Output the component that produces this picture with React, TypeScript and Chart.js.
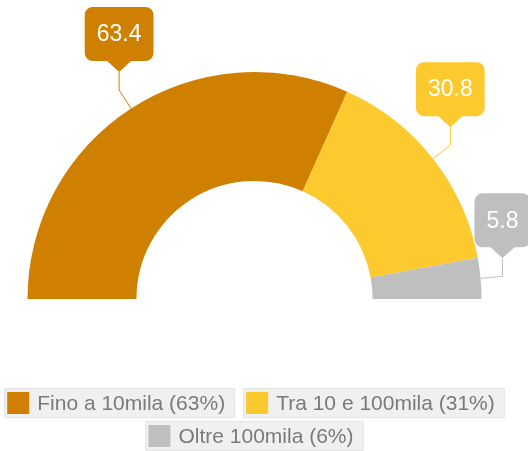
import React, { useEffect, useRef } from 'react';
import { Chart, registerables } from 'chart.js';

Chart.register(...registerables);

const categories = ['Fino a 10mila', 'Tra 10 e 100mila', 'Oltre 100mila'];
const values = [63.4, 30.8, 5.8];
const valueLabels = ['63.4', '30.8', '5.8'];
const colors = ['#D08000', '#FCC92F', '#BFBFBF'];

const FONT = '"Liberation Sans", Arial, Helvetica, sans-serif';

function roundedBoxWithPointer(ctx: CanvasRenderingContext2D, x: number, y: number, w: number, h: number, r: number, tipX: number, tipY: number, half: number) {
  ctx.beginPath();
  ctx.moveTo(x + r, y);
  ctx.lineTo(x + w - r, y);
  ctx.arcTo(x + w, y, x + w, y + r, r);
  ctx.lineTo(x + w, y + h - r);
  ctx.arcTo(x + w, y + h, x + w - r, y + h, r);
  ctx.lineTo(tipX + half, y + h);
  ctx.lineTo(tipX, tipY);
  ctx.lineTo(tipX - half, y + h);
  ctx.lineTo(x + r, y + h);
  ctx.arcTo(x, y + h, x, y + h - r, r);
  ctx.lineTo(x, y + r);
  ctx.arcTo(x, y, x + r, y, r);
  ctx.closePath();
}

const calloutPlugin = {
  id: 'callouts',
  afterDatasetsDraw(chart: any) {
    const ctx: CanvasRenderingContext2D = chart.ctx;
    const meta = chart.getDatasetMeta(0);
    ctx.save();
    meta.data.forEach((arc: any, i: number) => {
      const p = arc.getProps(['x', 'y', 'startAngle', 'endAngle', 'outerRadius'], true);
      const mid = (p.startAngle + p.endAngle) / 2;
      const ax = p.x + Math.cos(mid) * p.outerRadius;
      const ay = p.y + Math.sin(mid) * p.outerRadius;
      const ex = p.x + Math.cos(mid) * (p.outerRadius + 22);
      const ey = p.y + Math.sin(mid) * (p.outerRadius + 22);
      const tipY = ey - 18;
      const color = colors[i];
      ctx.strokeStyle = color;
      ctx.lineWidth = 1;
      ctx.beginPath();
      ctx.moveTo(ax, ay);
      ctx.lineTo(ex, ey);
      ctx.lineTo(ex, tipY);
      ctx.stroke();

      ctx.font = '23px ' + FONT;
      const label = valueLabels[i];
      const tw = ctx.measureText(label).width;
      const w = tw + 24;
      const h = 54;
      const bottom = tipY - 11;
      const top = bottom - h;
      const left = ex - w / 2;
      ctx.fillStyle = color;
      roundedBoxWithPointer(ctx, left, top, w, h, 8, ex, tipY, 12);
      ctx.fill();
      ctx.fillStyle = '#ffffff';
      ctx.textAlign = 'center';
      ctx.textBaseline = 'middle';
      ctx.fillText(label, ex, top + h / 2 + 1);
    });
    ctx.restore();
  },
};

const legendPlugin = {
  id: 'boxLegend',
  afterDraw(chart: any) {
    const ctx: CanvasRenderingContext2D = chart.ctx;
    const area = chart.chartArea;
    ctx.save();
    ctx.font = '21px ' + FONT;
    const items = categories.map((c, i) => {
      const text = `${c} (${Math.round(values[i])}%)`;
      const tw = ctx.measureText(text).width;
      return { text, tw, w: 3 + 22 + 8 + tw + 10, color: colors[i] };
    });
    const gap = 8;
    const maxW = area.right - area.left;
    const rows: any[][] = [[]];
    let rowW = 0;
    items.forEach((it) => {
      const cur = rows[rows.length - 1];
      if (cur.length && rowW + gap + it.w > maxW) {
        rows.push([it]);
        rowW = it.w;
      } else {
        rowW += (cur.length ? gap : 0) + it.w;
        cur.push(it);
      }
    });
    const cx = (area.left + area.right) / 2;
    const firstTop = area.bottom + 89;
    rows.forEach((row, ri) => {
      const total = row.reduce((s, it) => s + it.w, 0) + gap * (row.length - 1);
      let x = cx - total / 2;
      const y = firstTop + ri * 33;
      row.forEach((it) => {
        ctx.fillStyle = '#f0f0f0';
        ctx.fillRect(x, y, it.w, 30);
        ctx.strokeStyle = '#e4e4e4';
        ctx.lineWidth = 1;
        ctx.strokeRect(x + 0.5, y + 0.5, it.w - 1, 29);
        ctx.fillStyle = it.color;
        ctx.fillRect(x + 3, y + 4, 22, 22);
        ctx.fillStyle = '#7a7a7a';
        ctx.textAlign = 'left';
        ctx.textBaseline = 'middle';
        ctx.fillText(it.text, x + 33, y + 16);
        x += it.w + gap;
      });
    });
    ctx.restore();
  },
};

export default function App() {
  const ref = useRef<HTMLCanvasElement>(null);
  useEffect(() => {
    if (!ref.current) return;
    const chart = new Chart(ref.current, {
      type: 'doughnut',
      data: {
        labels: categories,
        datasets: [
          {
            data: values,
            backgroundColor: colors,
            borderWidth: 0,
          },
        ],
      },
      options: {
        responsive: false,
        animation: false,
        rotation: -90,
        circumference: 180,
        cutout: '52%',
        layout: { padding: { top: 72, bottom: 152, left: 0, right: 19 } },
        plugins: {
          legend: { display: false },
          tooltip: { enabled: false },
        },
      },
      plugins: [calloutPlugin, legendPlugin],
    });
    return () => chart.destroy();
  }, []);
  return (
    <canvas
      ref={ref}
      width={528}
      height={451}
      style={{ position: 'fixed', left: 0, top: 0, width: 528, height: 451 }}
    />
  );
}
